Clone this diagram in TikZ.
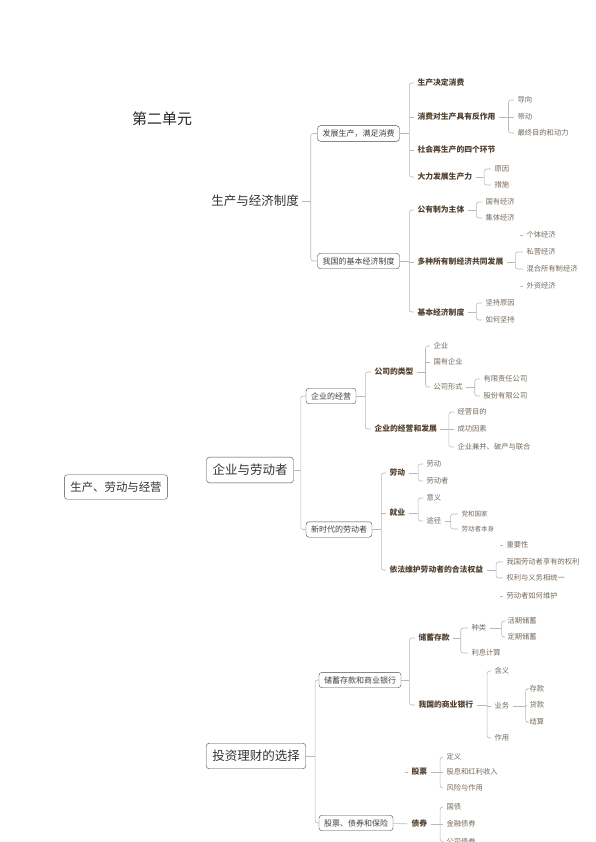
\documentclass[tikz,border=0pt]{standalone}
\usepackage{fontspec}
\setmainfont{Noto Sans CJK SC}
\usetikzlibrary{calc}
\definecolor{linegray}{RGB}{185,185,185}
\definecolor{boxgray}{RGB}{70,70,70}
\definecolor{subbrown}{RGB}{80,64,48}
\definecolor{leafbrown}{RGB}{118,106,94}

\tikzset{
  link/.style={draw=linegray, line width=0.6pt},
  big/.style={font=\fontsize{12.5}{14}\selectfont, text=black!80, inner sep=0.5pt, outer sep=3pt},
  bigbox/.style={big, draw=boxgray, rounded corners=3pt, inner xsep=6pt, inner ysep=7pt, outer sep=0.3pt},
  topic/.style={draw=boxgray, rounded corners=3pt, font=\fontsize{8}{9}\selectfont, text=black!75,
    inner xsep=5pt, inner ysep=4pt, outer sep=0.3pt},
  sub/.style={anchor=west, font=\fontsize{7.8}{9}\selectfont\bfseries, text=subbrown, inner sep=0.5pt, outer sep=3pt},
  leaf/.style={anchor=west, font=\fontsize{7.3}{9}\selectfont, text=leafbrown, inner sep=0.5pt, outer sep=3pt}
}

% trunk from a parent to its first and last child
\newcommand{\fork}[4]{%
  \coordinate (#1-t) at ($(#1.east)+(#2,0)$);
  \draw[link] (#1.east) -- (#1-t);
  \draw[link, rounded corners=2.5pt] (#3.west) -| (#1-t) |- (#4.west);
}
% short branch from the trunk to a middle child
\newcommand{\twig}[2]{\draw[link] (#2.west) -- (#2.west -| #1-t);}
% loose tick in front of a child
\newcommand{\loose}[1]{\draw[link] (#1.west) -- ++(-3pt,0);}

\begin{document}
\begin{tikzpicture}[x=1pt, y=-1pt]
\useasboundingbox (0,0) rectangle (595,842);

% titles
\node[font=\fontsize{15}{16}\selectfont, text=black!85] (unit) at (162,119) {第二单元};
\node[bigbox, font=\fontsize{11.4}{13}\selectfont] (root) at (116,487) {生产、劳动与经营};
\node[big] (zj) at (255,201) {生产与经济制度};
\node[bigbox] (qy) at (250,470) {企业与劳动者};
\node[bigbox] (tz) at (256,756) {投资理财的选择};

% ---- 生产与经济制度
\node[topic] (fz) at (358.5,133.5) {发展生产，满足消费};
\node[topic] (jb) at (358.5,261) {我国的基本经济制度};

\node[sub] (a1) at (414,83) {生产决定消费};
\node[sub] (a2) at (414,117) {消费对生产具有反作用};
\node[sub] (a3) at (414,150) {社会再生产的四个环节};
\node[sub] (a4) at (414,177) {大力发展生产力};
\node[leaf] (a21) at (514,100) {导向};
\node[leaf] (a22) at (514,117) {带动};
\node[leaf] (a23) at (514,133) {最终目的和动力};
\node[leaf] (a41) at (491,169) {原因};
\node[leaf] (a42) at (491,185) {措施};

\node[sub] (b1) at (414,210) {公有制为主体};
\node[sub] (b2) at (414,262) {多种所有制经济共同发展};
\node[sub] (b3) at (414,312) {基本经济制度};
\node[leaf] (b11) at (482,202) {国有经济};
\node[leaf] (b12) at (482,218) {集体经济};
\node[leaf] (b21) at (523,235) {个体经济};
\node[leaf] (b22) at (523,252) {私营经济};
\node[leaf] (b23) at (523,269) {混合所有制经济};
\node[leaf] (b24) at (523,286) {外资经济};
\node[leaf] (b31) at (482,303) {坚持原因};
\node[leaf] (b32) at (482,320) {如何坚持};

% ---- 企业与劳动者
\node[topic] (jy) at (331,396) {企业的经营};
\node[topic] (xs) at (339,529.5) {新时代的劳动者};

\node[sub] (c1) at (371,372) {公司的类型};
\node[sub] (c2) at (371,429) {企业的经营和发展};
\node[leaf] (c11) at (430,346) {企业};
\node[leaf] (c12) at (430,362) {国有企业};
\node[leaf] (c13) at (430,387) {公司形式};
\node[leaf] (c131) at (480,379) {有限责任公司};
\node[leaf] (c132) at (480,396) {股份有限公司};
\node[leaf] (c21) at (454,412) {经营目的};
\node[leaf] (c22) at (454,429) {成功因素};
\node[leaf] (c23) at (454,447) {企业兼并、破产与联合};

\node[sub] (d1) at (386,473) {劳动};
\node[sub] (d2) at (386,513) {就业};
\node[sub] (d3) at (386,570) {依法维护劳动者的合法权益};
\node[leaf] (d11) at (423,464) {劳动};
\node[leaf] (d12) at (423,481) {劳动者};
\node[leaf] (d21) at (423,498) {意义};
\node[leaf] (d22) at (423,521) {途径};
\node[leaf, font=\fontsize{6.5}{8}\selectfont] (d221) at (458,514) {党和国家};
\node[leaf, font=\fontsize{6.5}{8}\selectfont] (d222) at (458,529) {劳动者本身};
\node[leaf] (d31) at (503,545) {重要性};
\node[leaf] (d32) at (503,562) {我国劳动者享有的权利};
\node[leaf] (d33) at (503,578) {权利与义务相统一};
\node[leaf] (d34) at (503,596) {劳动者如何维护};

% ---- 投资理财的选择
\node[topic] (cx) at (360,680) {储蓄存款和商业银行};
\node[topic] (gp) at (356,823) {股票、债券和保险};

\node[sub] (e1) at (415,638) {储蓄存款};
\node[sub] (e2) at (415,705) {我国的商业银行};
\node[leaf] (e11) at (468,628) {种类};
\node[leaf] (e12) at (468,653) {利息计算};
\node[leaf] (e111) at (504,621) {活期储蓄};
\node[leaf] (e112) at (504,637) {定期储蓄};
\node[leaf] (e21) at (491,671) {含义};
\node[leaf] (e22) at (491,706) {业务};
\node[leaf] (e23) at (491,738) {作用};
\node[leaf] (e221) at (526,689) {存款};
\node[leaf] (e222) at (526,705) {贷款};
\node[leaf] (e223) at (526,722) {结算};

\node[sub] (f1) at (408,772) {股票};
\node[sub] (f2) at (408,824) {债券};
\node[leaf] (f11) at (443,757) {定义};
\node[leaf] (f12) at (443,772) {股息和红利收入};
\node[leaf] (f13) at (443,788) {风险与作用};
\node[leaf] (f21) at (443,807) {国债};
\node[leaf] (f22) at (443,824) {金融债券};
\node[leaf] (f23) at (443,841.5) {公司债券};

% connectors
\fork{zj}{8.5}{fz}{jb}
\fork{fz}{9.5}{a1}{a4} \twig{fz}{a2} \twig{fz}{a3}
\fork{a2}{9.5}{a21}{a23} \twig{a2}{a22}
\fork{a4}{8.5}{a41}{a42}
\fork{jb}{9.5}{b1}{b3} \twig{jb}{b2}
\fork{b1}{8.5}{b11}{b12}
\fork{b2}{8.5}{b22}{b23} \loose{b21} \loose{b24}
\fork{b3}{8.5}{b31}{b32}

\fork{qy}{7}{jy}{xs}
\fork{jy}{9}{c1}{c2}
\fork{c1}{8.5}{c11}{c13} \twig{c1}{c12}
\fork{c13}{8.5}{c131}{c132}
\fork{c2}{8.5}{c21}{c23} \twig{c2}{c22}
\fork{xs}{9}{d1}{d3} \twig{xs}{d2}
\fork{d1}{9.5}{d11}{d12}
\fork{d2}{9.5}{d21}{d22}
\fork{d22}{6}{d221}{d222}
\fork{d3}{9.5}{d32}{d33} \loose{d31} \loose{d34}

\fork{tz}{9}{cx}{gp}
\fork{cx}{8}{e1}{e2}
\fork{e1}{7.5}{e11}{e12}
\fork{e11}{12}{e111}{e112}
\fork{e2}{10.5}{e21}{e23} \twig{e2}{e22}
\fork{e22}{13}{e221}{e223} \twig{e22}{e222}
\loose{f1}
\fork{f1}{9.5}{f11}{f13} \twig{f1}{f12}
\draw[link] (gp) -- (f2);
\fork{f2}{9.5}{f21}{f23} \twig{f2}{f22}

\end{tikzpicture}
\end{document}
